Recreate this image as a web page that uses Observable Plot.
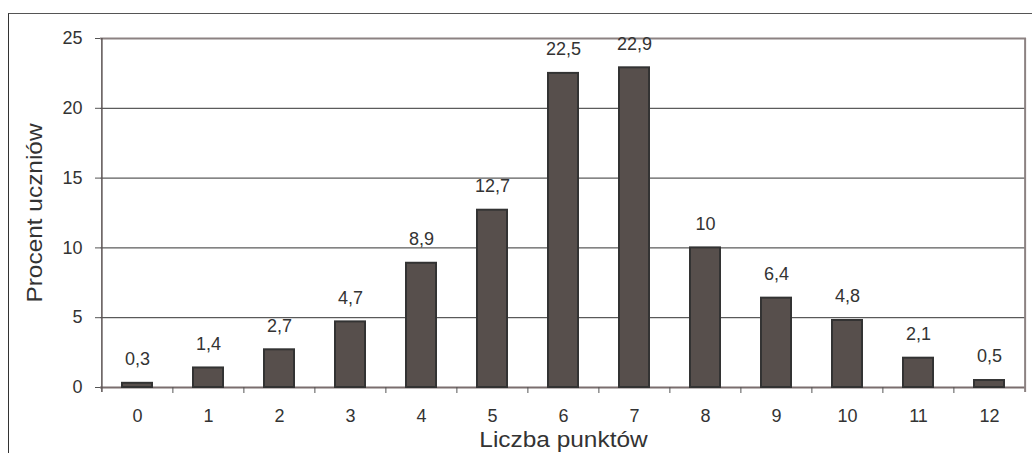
<!DOCTYPE html>
<html>
<head>
<meta charset="utf-8">
<script src="https://cdn.jsdelivr.net/npm/d3@7"></script>
<script src="https://cdn.jsdelivr.net/npm/@observablehq/plot@0.6"></script>
<style>
  html, body { margin: 0; padding: 0; background: #fff; }
  #wrap { position: relative; width: 1032px; height: 453px; overflow: hidden; }
  #outer { position: absolute; left: 8px; top: 13px; width: 1100px; height: 500px;
           border-left: 1px solid #333; border-top: 1px solid #555; box-sizing: border-box; pointer-events: none; }
  svg { font-family: "Liberation Sans", Arial, sans-serif; }
</style>
</head>
<body>
<div id="wrap"><div id="outer"></div></div>
<script>
const categories = ["0","1","2","3","4","5","6","7","8","9","10","11","12"];
const values = [0.3, 1.4, 2.7, 4.7, 8.9, 12.7, 22.5, 22.9, 10, 6.4, 4.8, 2.1, 0.5];
const yTicks = [0, 5, 10, 15, 20, 25];
const gridLines = [5, 10, 15, 20];
const xTitle = "Liczba punktów";
const yTitle = "Procent uczniów";

const data = categories.map((c, i) => ({cat: c, value: values[i], label: String(values[i]).replace(".", ",")}));

const W = 1032, H = 453;
const mL = 100, mR = 6, mT = 38, mB = 66;
const step = (W - mL - mR) / categories.length;
const textColor = "#333";

const chart = Plot.plot({
  width: W,
  height: H,
  marginLeft: mL,
  marginRight: mR,
  marginTop: mT,
  marginBottom: mB,
  style: {fontFamily: "'Liberation Sans', Arial, sans-serif", fontSize: "18px", color: textColor, background: "transparent", overflow: "visible"},
  x: {domain: categories, paddingInner: 0.58, paddingOuter: 0.29, label: null},
  y: {domain: [0, 25], label: null},
  marks: [
    Plot.ruleY(gridLines, {stroke: "#333", strokeWidth: 1}),
    Plot.ruleY([25], {stroke: "#8c8282", strokeWidth: 2}),
    Plot.ruleY([0], {stroke: "#7a6e6e", strokeWidth: 2}),
    // right frame edge
    Plot.ruleX([categories[categories.length - 1]], {dx: step / 2, y1: 25, y2: 0, insetBottom: -5, stroke: "#8c8282", strokeWidth: 2}),
    // category boundary ticks
    Plot.ruleX(categories.slice(1), {dx: -step / 2, y1: 0, y2: 0, insetBottom: -6, stroke: "#555", strokeWidth: 1}),
    // left axis line
    Plot.ruleX([categories[0]], {dx: -step / 2, y1: 25, y2: 0, insetBottom: -5, stroke: "#5a5252", strokeWidth: 1.5}),
    Plot.axisY(yTicks, {tickSize: 5, tickPadding: 13, stroke: "#555", fill: textColor, fontSize: 18, label: null}),
    Plot.axisX({tickSize: 0, tickPadding: 22, fill: textColor, fontSize: 18, label: null}),
    Plot.barY(data, {x: "cat", y: "value", fill: "#574f4c", stroke: "#333", strokeWidth: 2}),
    Plot.text(data, {x: "cat", y: "value", text: "label", dy: -24, fill: textColor, fontSize: 18}),
    Plot.text([xTitle], {frameAnchor: "bottom", lineAnchor: "middle", textAnchor: "middle", dy: 52, fill: textColor, fontSize: 22}),
    Plot.text([yTitle], {frameAnchor: "left", lineAnchor: "middle", textAnchor: "middle", dx: -66, rotate: -90, fill: textColor, fontSize: 22})
  ]
});
// the reference's titles use slightly wider glyphs than Arial: stretch along the text direction
d3.select(chart).selectAll("text")
  .filter(function() { const t = this.textContent; return t === xTitle || t === yTitle; })
  .each(function() {
    const tr = this.getAttribute("transform");
    if (tr) this.setAttribute("transform", tr + " scale(1.11,1)");
  });
document.getElementById("wrap").prepend(chart);
</script>
</body>
</html>
